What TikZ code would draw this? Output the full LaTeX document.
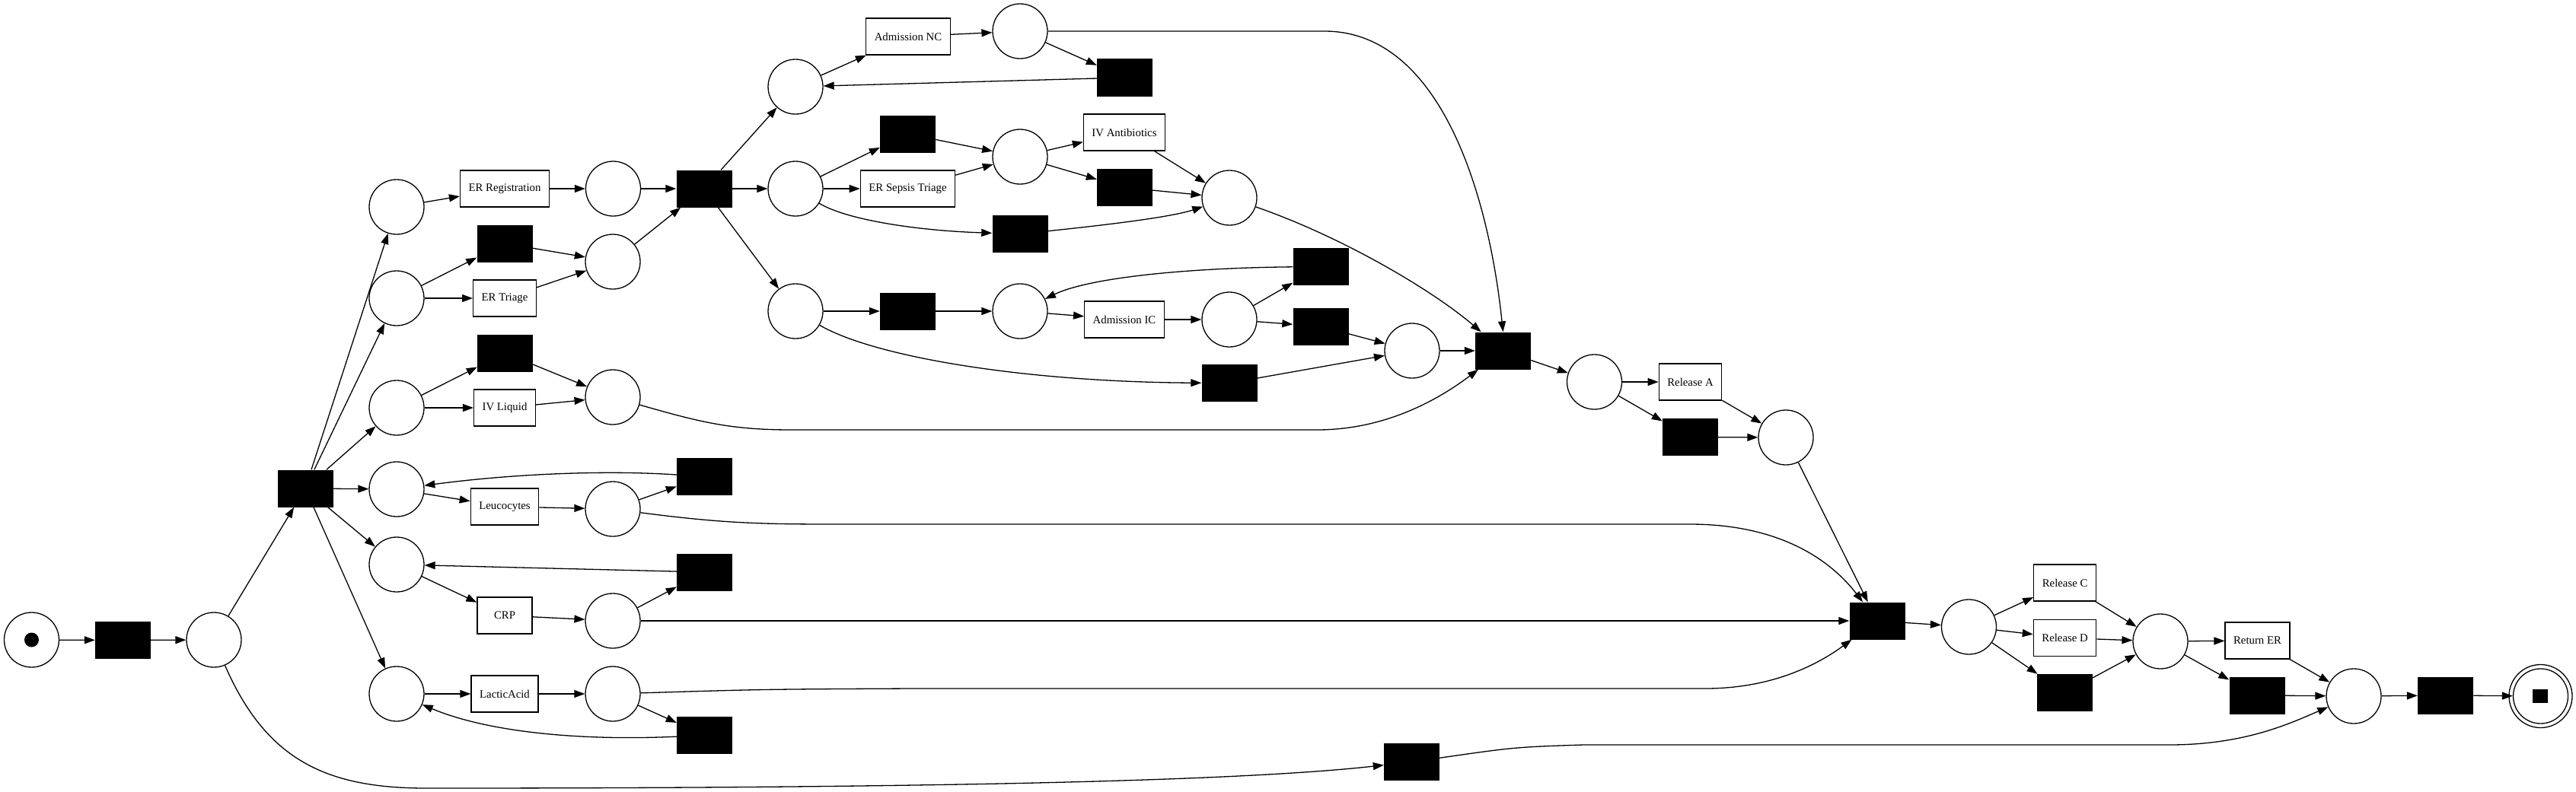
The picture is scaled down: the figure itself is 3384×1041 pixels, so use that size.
\documentclass[tikz,border=0pt]{standalone}
\usepackage{fontspec}
\setmainfont{Liberation Serif}
\usetikzlibrary{arrows.meta}
\begin{document}
\begin{tikzpicture}[x=1pt,y=-1pt,
  pl/.style={circle,draw,line width=1.3pt,minimum size=72pt,inner sep=0pt},
  tr/.style={rectangle,fill=black,minimum width=73pt,minimum height=49pt,inner sep=0pt},
  ac/.style={rectangle,draw,line width=1.3pt,minimum width=72pt,minimum height=48pt,inner xsep=11pt,inner ysep=0pt,font=\fontsize{14.8}{17}\selectfont},
  arr/.style={line width=1.3pt,-{Triangle[length=14pt,width=10pt]}}]
\useasboundingbox (0,0) rectangle (3384,1041);
% places
\node[pl] (P0) at (41.5,841) {};
\fill (P0.center) circle (9.5);
\node[pl] (P1) at (281,841) {};
\node[pl] (Pa) at (521,272) {};
\node[pl] (Pb) at (521,392) {};
\node[pl] (Pc) at (521,536) {};
\node[pl] (Pd) at (521,643) {};
\node[pl] (Pe) at (521,742) {};
\node[pl] (Pf) at (521,912) {};
\node[pl] (Pg) at (805.5,248) {};
\node[pl] (Ph) at (805,344) {};
\node[pl] (Pi) at (805,522) {};
\node[pl] (Pj) at (805,669) {};
\node[pl] (Pk) at (805,816) {};
\node[pl] (Pl) at (805,912) {};
\node[pl] (Pm) at (1045,114) {};
\node[pl] (Pn) at (1340,41) {};
\node[pl] (Po) at (1045,248) {};
\node[pl] (Pp) at (1340,206) {};
\node[pl] (Pq) at (1615,260) {};
\node[pl] (Pr) at (1045,409) {};
\node[pl] (Ps) at (1340,409) {};
\node[pl] (Pt) at (1615,420) {};
\node[pl] (Pu) at (1855,461) {};
\node[pl] (Pv) at (2094.5,502) {};
\node[pl] (Pw) at (2346,575) {};
\node[pl] (Px) at (2586.5,824) {};
\node[pl] (Py) at (2838,843) {};
\node[pl] (Pz) at (3092,915) {};
\node[pl] (Pend) at (3337.5,915) {};
\draw[line width=1.3pt] (Pend.center) circle (41.5);
\fill (3327,906) rectangle (3347,924);
% silent transitions
\node[tr] (T0) at (161.5,841.5) {};
\node[tr] (T1) at (401,642) {};
\node[tr] (T2) at (925,248) {};
\node[tr] (tauTriage) at (663,320) {};
\node[tr] (tauIV) at (663.5,464) {};
\node[tr] (tauLeuc) at (925.5,626.5) {};
\node[tr] (tauCRP) at (925.5,752) {};
\node[tr] (tauLactic) at (925.5,966.5) {};
\node[tr] (tauNC) at (1477.5,102) {};
\node[tr] (tauSepsis) at (1192.5,176) {};
\node[tr] (tauSkip) at (1340,307.5) {};
\node[tr] (tauAnti) at (1477.5,246.5) {};
\node[tr] (tauPr) at (1192.5,409) {};
\node[tr] (tauICloop) at (1735,350.5) {};
\node[tr] (tauIC) at (1735,429) {};
\node[tr] (tauPrPu) at (1615,503.5) {};
\node[tr] (TJ1) at (1974.5,461) {};
\node[tr] (tauRelA) at (2220.5,574.6) {};
\node[tr] (TJ2) at (2466,816) {};
\node[tr] (tauRel) at (2712.6,910.5) {};
\node[tr] (tauRet) at (2965,914) {};
\node[tr] (Tend) at (3212.6,914) {};
\node[tr] (tauP1) at (1854.5,1001.5) {};
% labelled transitions
\node[ac] (ERReg) at (663,248) {ER Registration};
\node[ac] (ERTriage) at (663,392) {ER Triage};
\node[ac] (IVLiquid) at (663,536) {IV Liquid};
\node[ac] (Leuc) at (663,666) {Leucocytes};
\node[ac] (CRP) at (663,809) {CRP};
\node[ac] (Lactic) at (663,912) {LacticAcid};
\node[ac] (AdmNC) at (1193,48) {Admission NC};
\node[ac] (Sepsis) at (1192.5,248) {ER Sepsis Triage};
\node[ac] (IVAnti) at (1477,174) {IV Antibiotics};
\node[ac] (AdmIC) at (1477,420) {Admission IC};
\node[ac] (RelA) at (2220.5,502) {Release A};
\node[ac] (RelC) at (2712.6,766) {Release C};
\node[ac] (RelD) at (2712.6,838.5) {Release D};
\node[ac] (RetER) at (2965.5,842) {Return ER};
% arcs
\draw[arr] (P0) -- (T0);
\draw[arr] (T0) -- (P1);
\draw[arr] (P1) -- (T1);
\draw[arr] (P1) .. controls (350,1000) and (430,1036) .. (560,1036) .. controls (1100,1036) and (1600,1030) .. (tauP1);
\draw[arr] (tauP1) .. controls (1990,982) .. (2080,979) -- (2850,979) .. controls (2950,979) and (3010,950) .. (Pz);
\foreach \p in {Pa,Pb,Pc,Pd,Pe,Pf} \draw[arr] (T1) -- (\p);
\draw[arr] (Pa) -- (ERReg);
\draw[arr] (ERReg) -- (Pg);
\draw[arr] (Pg) -- (T2);
\draw[arr] (Pb) -- (tauTriage);
\draw[arr] (Pb) -- (ERTriage);
\draw[arr] (tauTriage) -- (Ph);
\draw[arr] (ERTriage) -- (Ph);
\draw[arr] (Ph) -- (T2);
\draw[arr] (Pc) -- (tauIV);
\draw[arr] (Pc) -- (IVLiquid);
\draw[arr] (tauIV) -- (Pi);
\draw[arr] (IVLiquid) -- (Pi);
\draw[arr] (Pi) .. controls (920,555) and (960,565) .. (1040,565) -- (1730,565) .. controls (1820,565) and (1890,525) .. (TJ1);
\draw[arr] (Pd) -- (Leuc);
\draw[arr] (Leuc) -- (Pj);
\draw[arr] (Pj) -- (tauLeuc);
\draw[arr] (tauLeuc) .. controls (800,618) and (680,622) .. (Pd);
\draw[arr] (Pj) .. controls (950,688) and (1000,689) .. (1100,689) -- (2220,689) .. controls (2330,689) and (2400,730) .. (TJ2);
\draw[arr] (Pe) -- (CRP);
\draw[arr] (CRP) -- (Pk);
\draw[arr] (Pk) -- (tauCRP);
\draw[arr] (tauCRP) -- (Pe);
\draw[arr] (Pk) -- (TJ2);
\draw[arr] (Pf) -- (Lactic);
\draw[arr] (Lactic) -- (Pl);
\draw[arr] (Pl) -- (tauLactic);
\draw[arr] (tauLactic) .. controls (760,974) and (640,962) .. (Pf);
\draw[arr] (Pl) .. controls (1000,906) .. (1200,905) -- (2240,905) .. controls (2330,905) and (2390,872) .. (TJ2);
\draw[arr] (T2) -- (Pm);
\draw[arr] (T2) -- (Po);
\draw[arr] (T2) -- (Pr);
\draw[arr] (Pm) -- (AdmNC);
\draw[arr] (AdmNC) -- (Pn);
\draw[arr] (Pn) -- (tauNC);
\draw[arr] (tauNC) -- (Pm);
\draw[arr] (Pn) -- (1740,41) .. controls (1890,41) and (1955,250) .. (TJ1.north);
\draw[arr] (Po) -- (tauSepsis);
\draw[arr] (Po) -- (Sepsis);
\draw[arr] (tauSepsis) -- (Pp);
\draw[arr] (Sepsis) -- (Pp);
\draw[arr] (Po) .. controls (1110,288) and (1200,303) .. (tauSkip);
\draw[arr] (tauSkip) .. controls (1460,295) and (1540,285) .. (Pq);
\draw[arr] (Pp) -- (IVAnti);
\draw[arr] (Pp) -- (tauAnti);
\draw[arr] (IVAnti) -- (Pq);
\draw[arr] (tauAnti) -- (Pq);
\draw[arr] (Pq) .. controls (1760,310) and (1880,380) .. (TJ1);
\draw[arr] (Pr) -- (tauPr);
\draw[arr] (tauPr) -- (Ps);
\draw[arr] (Ps) -- (AdmIC);
\draw[arr] (AdmIC) -- (Pt);
\draw[arr] (Pt) -- (tauICloop);
\draw[arr] (Pt) -- (tauIC);
\draw[arr] (tauICloop) .. controls (1560,352) and (1430,365) .. (Ps);
\draw[arr] (tauIC) -- (Pu);
\draw[arr] (Pu) -- (TJ1);
\draw[arr] (Pr) .. controls (1150,470) and (1350,502) .. (tauPrPu);
\draw[arr] (tauPrPu) -- (Pu);
\draw[arr] (TJ1) -- (Pv);
\draw[arr] (Pv) -- (RelA);
\draw[arr] (Pv) -- (tauRelA);
\draw[arr] (RelA) -- (Pw);
\draw[arr] (tauRelA) -- (Pw);
\draw[arr] (Pw) -- (TJ2);
\draw[arr] (TJ2) -- (Px);
\draw[arr] (Px) -- (RelC);
\draw[arr] (Px) -- (RelD);
\draw[arr] (Px) -- (tauRel);
\draw[arr] (RelC) -- (Py);
\draw[arr] (RelD) -- (Py);
\draw[arr] (tauRel) -- (Py);
\draw[arr] (Py) -- (RetER);
\draw[arr] (Py) -- (tauRet);
\draw[arr] (RetER) -- (Pz);
\draw[arr] (tauRet) -- (Pz);
\draw[arr] (Pz) -- (Tend);
\draw[arr] (Tend) -- (Pend);
\end{tikzpicture}
\end{document}
